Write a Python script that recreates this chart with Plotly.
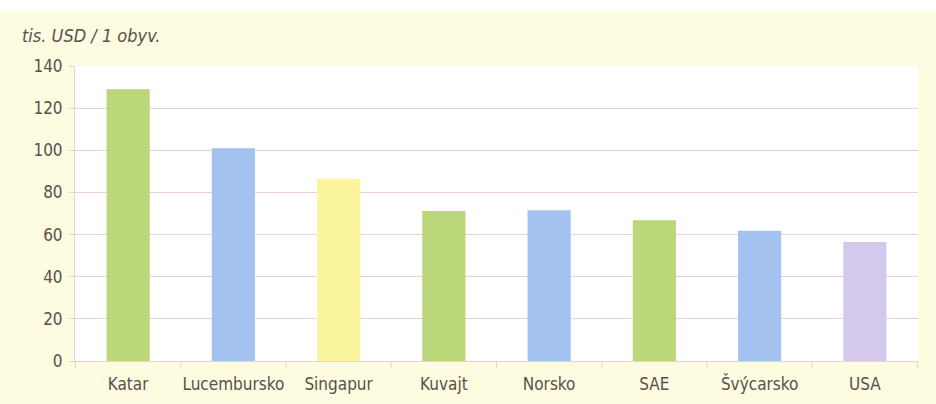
import plotly.graph_objects as go

categories = ["Katar", "Lucembursko", "Singapur", "Kuvajt", "Norsko", "SAE", "Švýcarsko", "USA"]
values = [129, 101, 86.5, 71.2, 71.5, 66.8, 61.8, 56.5]
colors = ["#bcd67a", "#a4c2f0", "#fbf5a0", "#bcd67a", "#a4c2f0", "#bcd67a", "#a4c2f0", "#d4c8ec"]
y_ticks = [0, 20, 40, 60, 80, 100, 120, 140]
y_title = "tis. USD / 1 obyv."

FONT = "DejaVu Sans Condensed, Liberation Sans Narrow, sans-serif"
TXT = "#5a504c"
GRID = "#ead2d0"

fig = go.Figure(go.Bar(
    x=categories, y=values, marker=dict(color=colors, line=dict(width=0)),
    width=0.41, hoverinfo="x+y",
))

fig.update_layout(
    width=936, height=404,
    margin=dict(l=75, r=18, t=66, b=43, autoexpand=False),
    paper_bgcolor="#fdfbe0",
    plot_bgcolor="#ffffff",
    showlegend=False,
    font=dict(family=FONT, color=TXT, size=17),
    xaxis=dict(
        showgrid=False, showline=True, linecolor=GRID, linewidth=1, automargin=False,
        ticks="", tickfont=dict(size=17, color=TXT), ticklabelstandoff=8,
    ),
    yaxis=dict(
        range=[0, 140], tickvals=y_ticks, showgrid=True, gridcolor=GRID, gridwidth=1,
        showline=True, linecolor=GRID, linewidth=1, zeroline=False, automargin=False,
        ticks="outside", ticklen=5, tickcolor=GRID, ticklabelstandoff=3,
        tickfont=dict(size=17, color=TXT),
    ),
    annotations=[dict(
        text=y_title, xref="paper", yref="paper", x=-75/843 + 20/843, y=1 + 18/295,
        xanchor="left", yanchor="bottom", showarrow=False,
        font=dict(family=FONT, size=18, color=TXT, style="italic"),
    )],
)

# category-boundary tick marks below the x axis
shapes = []
for i in range(len(categories) + 1):
    shapes.append(dict(type="line", xref="x", yref="paper", x0=i - 0.5, x1=i - 0.5,
                       y0=0, y1=-7/295, line=dict(color=GRID, width=1)))
# white strip at the top of the page
shapes.append(dict(type="rect", xref="paper", yref="paper", x0=-75/843, x1=1 + 18/843,
                   y0=1 + 54/295, y1=1 + 66/295, fillcolor="#ffffff", line=dict(width=0),
                   layer="below"))
fig.update_layout(shapes=shapes)

fig.write_html("out.html", config={"displayModeBar": False},
               post_script="document.body.style.margin='0';document.body.style.overflow='hidden';")
